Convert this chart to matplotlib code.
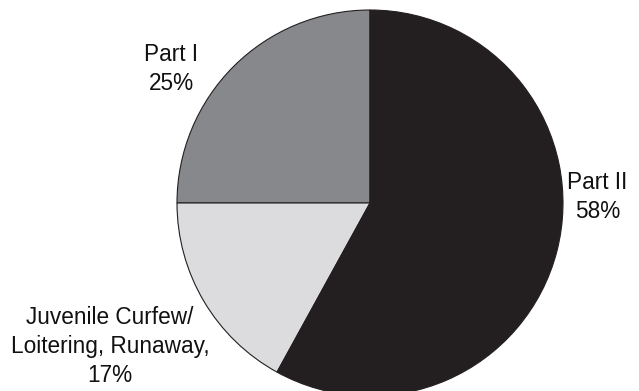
import matplotlib.pyplot as plt

labels = ["Part I\n25%", "Juvenile Curfew/\nLoitering, Runaway,\n17%", "Part II\n58%"]
shares = [25, 17, 58]
colors = ["#87888b", "#dcdcde", "#231f20"]

# label centres in pie-radius units
label_xy = [(-1.031, 0.692), (-1.347, -0.744), (1.179, 0.031)]

fig = plt.figure(figsize=(6.39, 3.91), dpi=100)
ax = fig.add_axes([0, 0, 1, 1])
ax.pie(shares, colors=colors, startangle=90, counterclock=True,
       wedgeprops=dict(edgecolor="#231f20", linewidth=0.8))

for lab, (x, y) in zip(labels, label_xy):
    ax.text(x, y, lab, ha="center", va="center", fontsize=16.3,
            family="Liberation Sans", linespacing=1.33, color="#111111")

r = 193.0
ax.set_xlim(-370 / r, (639 - 370) / r)
ax.set_ylim(-188 / r, 203 / r)
ax.set_aspect("auto")
ax.axis("off")

fig.savefig("out.png", dpi=100)
